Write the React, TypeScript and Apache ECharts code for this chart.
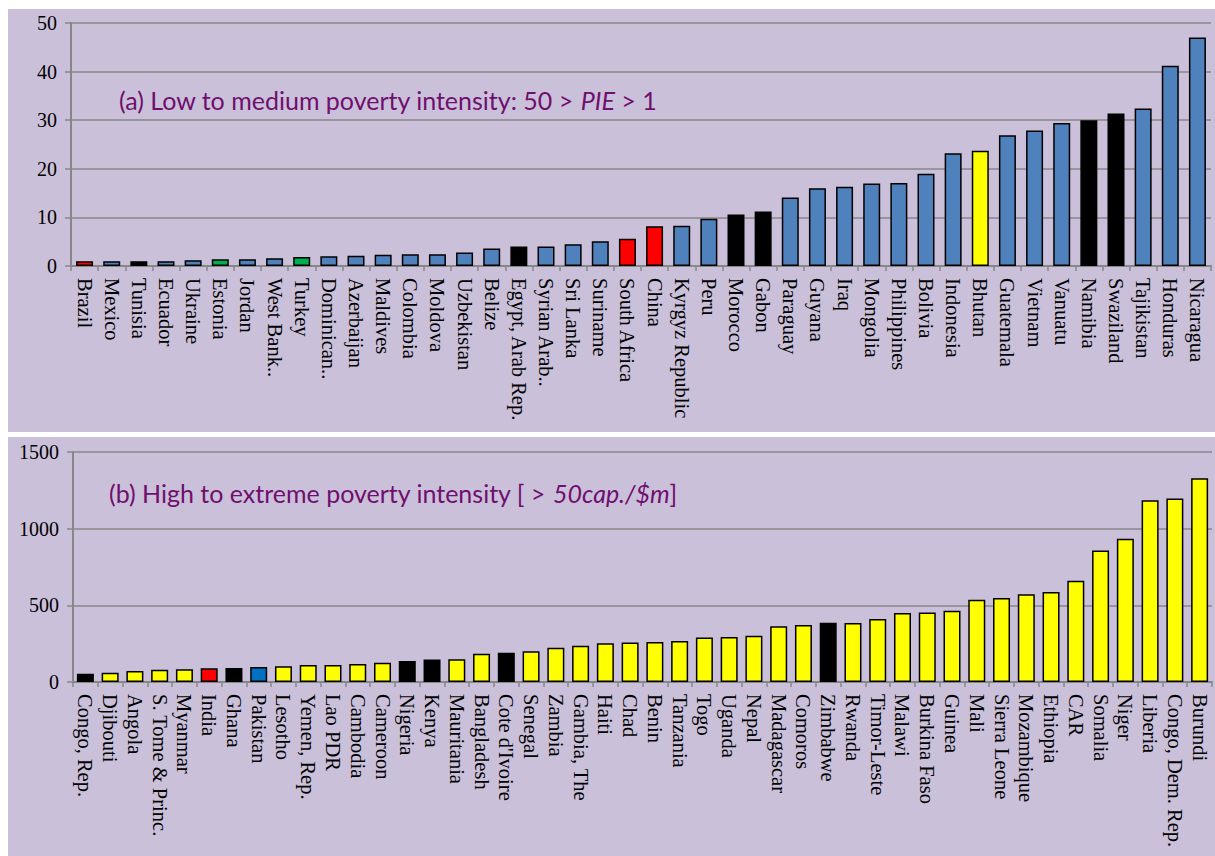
import React, { useEffect, useRef } from "react";
import * as echarts from "echarts";

// Panel (a): low to medium poverty intensity
const countriesA = [
  "Brazil", "Mexico", "Tunisia", "Ecuador", "Ukraine", "Estonia", "Jordan",
  "West Bank..", "Turkey", "Dominican..", "Azerbaijan", "Maldives", "Colombia",
  "Moldova", "Uzbekistan", "Belize", "Egypt, Arab Rep.", "Syrian Arab..",
  "Sri Lanka", "Suriname", "South Africa", "China", "Kyrgyz Republic", "Peru",
  "Morocco", "Gabon", "Paraguay", "Guyana", "Iraq", "Mongolia", "Philippines",
  "Bolivia", "Indonesia", "Bhutan", "Guatemala", "Vietnam", "Vanuatu",
  "Namibia", "Swaziland", "Tajikistan", "Honduras", "Nicaragua",
];
const pieA = [
  1.0, 1.0, 1.0, 1.0, 1.2, 1.4, 1.4, 1.6, 1.85, 2.0, 2.1, 2.3, 2.4,
  2.4, 2.8, 3.6, 4.0, 4.0, 4.5, 5.1, 5.6, 8.2, 8.3, 9.7,
  10.6, 11.2, 14.1, 16.0, 16.3, 17.0, 17.1, 19.0, 23.2, 23.7, 26.9, 27.9, 29.4,
  30.0, 31.4, 32.4, 41.2, 47.0,
];
const groupA = [
  "red", "blue", "black", "blue", "blue", "green", "blue", "blue", "green", "blue",
  "blue", "blue", "blue", "blue", "blue", "blue", "black", "blue", "blue", "blue",
  "red", "red", "blue", "blue", "black", "black", "blue", "blue", "blue", "blue",
  "blue", "blue", "blue", "yellow", "blue", "blue", "blue", "black", "black", "blue",
  "blue", "blue",
];
const ticksA = { min: 0, max: 50, step: 10 };

// Panel (b): high to extreme poverty intensity
const countriesB = [
  "Congo, Rep.", "Djibouti", "Angola", "S. Tome & Princ.", "Myanmar", "India",
  "Ghana", "Pakistan", "Lesotho", "Yemen, Rep.", "Lao PDR", "Cambodia",
  "Cameroon", "Nigeria", "Kenya", "Mauritania", "Bangladesh", "Cote d'Ivoire",
  "Senegal", "Zambia", "Gambia, The", "Haiti", "Chad", "Benin", "Tanzania",
  "Togo", "Uganda", "Nepal", "Madagascar", "Comoros", "Zimbabwe", "Rwanda",
  "Timor-Leste", "Malawi", "Burkina Faso", "Guinea", "Mali", "Sierra Leone",
  "Mozambique", "Ethiopia", "CAR", "Somalia", "Niger", "Liberia",
  "Congo, Dem. Rep.", "Burundi",
];
const pieB = [
  54, 61, 72, 80, 83, 89, 91, 98, 102, 111, 111, 117, 126, 137, 146, 148,
  185, 191, 200, 224, 237, 252, 257, 261, 267, 291, 293, 302, 363, 372, 387,
  385, 411, 450, 454, 465, 537, 548, 572, 587, 661, 857, 935, 1185, 1196, 1328,
];
const groupB = [
  "black", "yellow", "yellow", "yellow", "yellow", "red", "black", "navy",
  "yellow", "yellow", "yellow", "yellow", "yellow", "black", "black", "yellow",
  "yellow", "black", "yellow", "yellow", "yellow", "yellow", "yellow", "yellow",
  "yellow", "yellow", "yellow", "yellow", "yellow", "yellow", "black", "yellow",
  "yellow", "yellow", "yellow", "yellow", "yellow", "yellow", "yellow", "yellow",
  "yellow", "yellow", "yellow", "yellow", "yellow", "yellow",
];
const ticksB = { min: 0, max: 1500, step: 500 };

const FILL: Record<string, string> = {
  blue: "#4F81BD",
  red: "#FF0000",
  black: "#000000",
  green: "#00B050",
  yellow: "#FFFF00",
  navy: "#0070C0",
};

const PANEL_BG = "#CBC0DA";
const AXIS_GREY = "#878787";
const TITLE_PURPLE = "#6F0F6E";
const SERIF = "'Liberation Serif', 'Times New Roman', serif";
const SANS = "Lato, 'Open Sans', sans-serif";

function barData(values: number[], groups: string[]) {
  return values.map((v, i) => ({
    value: v,
    itemStyle: { color: FILL[groups[i]] },
  }));
}

function xAxisFor(gridIndex: number, data: string[]) {
  return {
    type: "category" as const,
    gridIndex,
    data,
    axisLine: { show: true, lineStyle: { color: AXIS_GREY, width: 2 } },
    axisTick: {
      show: true,
      interval: 0,
      length: 5,
      lineStyle: { color: AXIS_GREY, width: 1.5 },
    },
    axisLabel: {
      interval: 0,
      rotate: -90,
      margin: 12,
      fontFamily: SERIF,
      fontSize: 20.5,
      color: "#000",
    },
  };
}

function yAxisFor(gridIndex: number, t: { min: number; max: number; step: number }) {
  return {
    type: "value" as const,
    gridIndex,
    min: t.min,
    max: t.max,
    interval: t.step,
    axisLine: { show: true, lineStyle: { color: AXIS_GREY, width: 2 } },
    axisTick: { show: true, length: 6, lineStyle: { color: AXIS_GREY, width: 1.5 } },
    splitLine: { show: true, lineStyle: { color: AXIS_GREY, width: 1.5 } },
    axisLabel: {
      margin: 14,
      fontFamily: SERIF,
      fontSize: 20,
      color: "#000",
      formatter: (v: number) => String(v),
    },
  };
}

const titleRich = {
  n: { fontFamily: SANS, fontSize: 25, fontWeight: "normal", color: TITLE_PURPLE },
  i: {
    fontFamily: SANS,
    fontSize: 25,
    fontWeight: "normal",
    fontStyle: "italic",
    color: TITLE_PURPLE,
  },
};

export default function App() {
  const ref = useRef<HTMLDivElement>(null);

  useEffect(() => {
    if (!ref.current) return;
    const chart = echarts.init(ref.current, null, { renderer: "svg" });
    chart.setOption({
      animation: false,
      backgroundColor: "#ffffff",
      graphic: [
        {
          type: "rect",
          z: -10,
          shape: { x: 8, y: 9, width: 1207, height: 423 },
          style: { fill: PANEL_BG },
        },
        {
          type: "rect",
          z: -10,
          shape: { x: 8, y: 437, width: 1207, height: 419 },
          style: { fill: PANEL_BG },
        },
      ],
      title: [
        {
          left: 114,
          top: 82,
          text: "{n|(a) Low to medium poverty intensity: 50 > }{i|PIE}{n| > 1}",
          textStyle: { fontWeight: "normal", rich: titleRich },
        },
        {
          left: 104,
          top: 475,
          text: "{n|(b) High to extreme poverty intensity [ > }{i|50cap./$m}{n|]}",
          textStyle: { fontWeight: "normal", rich: titleRich },
        },
      ],
      grid: [
        { left: 71, top: 23, width: 1140, height: 243 },
        { left: 73, top: 452, width: 1139, height: 230 },
      ],
      xAxis: [xAxisFor(0, countriesA), xAxisFor(1, countriesB)],
      yAxis: [yAxisFor(0, ticksA), yAxisFor(1, ticksB)],
      series: [
        {
          type: "bar",
          xAxisIndex: 0,
          yAxisIndex: 0,
          barWidth: 17,
          data: barData(pieA, groupA),
          itemStyle: { borderColor: "#000", borderWidth: 1.5 },
        },
        {
          type: "bar",
          xAxisIndex: 1,
          yAxisIndex: 1,
          barWidth: 17,
          data: barData(pieB, groupB),
          itemStyle: { borderColor: "#000", borderWidth: 1.5 },
        },
      ],
    });
    return () => chart.dispose();
  }, []);

  return (
    <div
      ref={ref}
      style={{ position: "absolute", left: 0, top: 0, width: 1215, height: 856 }}
    />
  );
}
